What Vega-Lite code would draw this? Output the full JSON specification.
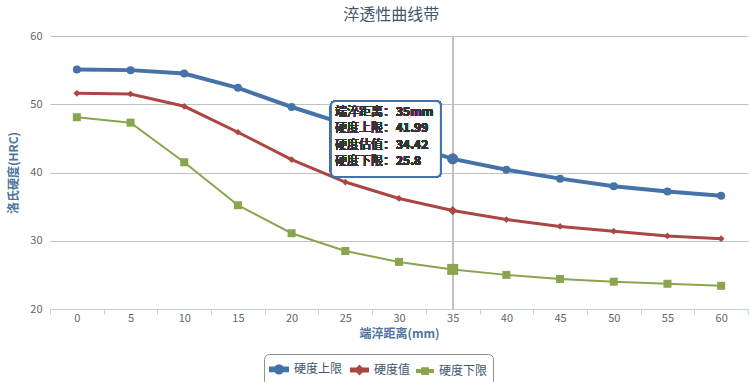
{
  "$schema": "https://vega.github.io/schema/vega-lite/v6.json",
  "width": 698,
  "height": 273,
  "autosize": {"type": "none"},
  "padding": {"left": 50, "top": 36, "right": 1, "bottom": 73},
  "background": "white",
  "title": {"text": "淬透性曲线带", "font": "Noto Sans CJK SC", "fontSize": 16, "fontWeight": "normal", "color": "#3E576F", "anchor": "middle", "frame": "bounds", "offset": 7},
  "config": {
    "view": {"stroke": null},
    "font": "Noto Sans CJK SC",
    "legend": {
      "padding": 5, "strokeColor": "#909090", "cornerRadius": 5, "fillColor": "white",
      "symbolSize": 256, "symbolStrokeWidth": 0, "symbolOpacity": 1,
      "labelFont": "Noto Sans CJK SC", "labelFontSize": 12, "labelColor": "#3E576F",
      "labelOffset": 5, "columnPadding": 2
    }
  },
  "data": {"values": [
    {"d": 0, "series": "硬度上限", "v": 55.1},
    {"d": 5, "series": "硬度上限", "v": 55.0},
    {"d": 10, "series": "硬度上限", "v": 54.5},
    {"d": 15, "series": "硬度上限", "v": 52.4},
    {"d": 20, "series": "硬度上限", "v": 49.6},
    {"d": 25, "series": "硬度上限", "v": 47.1},
    {"d": 30, "series": "硬度上限", "v": 44.5},
    {"d": 35, "series": "硬度上限", "v": 41.99},
    {"d": 40, "series": "硬度上限", "v": 40.4},
    {"d": 45, "series": "硬度上限", "v": 39.1},
    {"d": 50, "series": "硬度上限", "v": 38.0},
    {"d": 55, "series": "硬度上限", "v": 37.2},
    {"d": 60, "series": "硬度上限", "v": 36.6},
    {"d": 0, "series": "硬度值", "v": 51.6},
    {"d": 5, "series": "硬度值", "v": 51.5},
    {"d": 10, "series": "硬度值", "v": 49.7},
    {"d": 15, "series": "硬度值", "v": 45.9},
    {"d": 20, "series": "硬度值", "v": 41.9},
    {"d": 25, "series": "硬度值", "v": 38.6},
    {"d": 30, "series": "硬度值", "v": 36.2},
    {"d": 35, "series": "硬度值", "v": 34.42},
    {"d": 40, "series": "硬度值", "v": 33.1},
    {"d": 45, "series": "硬度值", "v": 32.1},
    {"d": 50, "series": "硬度值", "v": 31.4},
    {"d": 55, "series": "硬度值", "v": 30.7},
    {"d": 60, "series": "硬度值", "v": 30.3},
    {"d": 0, "series": "硬度下限", "v": 48.1},
    {"d": 5, "series": "硬度下限", "v": 47.3},
    {"d": 10, "series": "硬度下限", "v": 41.5},
    {"d": 15, "series": "硬度下限", "v": 35.2},
    {"d": 20, "series": "硬度下限", "v": 31.1},
    {"d": 25, "series": "硬度下限", "v": 28.5},
    {"d": 30, "series": "硬度下限", "v": 26.9},
    {"d": 35, "series": "硬度下限", "v": 25.8},
    {"d": 40, "series": "硬度下限", "v": 25.0},
    {"d": 45, "series": "硬度下限", "v": 24.4},
    {"d": 50, "series": "硬度下限", "v": 24.0},
    {"d": 55, "series": "硬度下限", "v": 23.7},
    {"d": 60, "series": "硬度下限", "v": 23.4}
  ]},
  "encoding": {
    "x": {"field": "d", "type": "quantitative",
      "scale": {"domain": [-2.5, 62.5], "nice": false, "zero": false},
      "axis": {
        "values": [-2.5, 2.5, 7.5, 12.5, 17.5, 22.5, 27.5, 32.5, 37.5, 42.5, 47.5, 52.5, 57.5, 62.5],
        "labelExpr": "datum.value > 60 ? '' : format(datum.value + 2.5, 'd')",
        "labelOffset": 26.85,
        "labelFlush": false, "labelOverlap": false, "labelBound": false,
        "grid": false,
        "domainColor": "#C0D0E0", "domainWidth": 1,
        "ticks": true, "tickColor": "#C0D0E0", "tickSize": 5, "tickWidth": 1,
        "labelFont": "Noto Sans CJK SC", "labelFontSize": 11, "labelColor": "#666666", "labelPadding": -2,
        "title": "端淬距离(mm)", "titleFont": "Noto Sans CJK SC", "titleFontSize": 12, "titleFontWeight": "bold", "titleColor": "#4D759E", "titlePadding": 5
      }
    },
    "y": {"field": "v", "type": "quantitative",
      "scale": {"domain": [20, 60], "nice": false, "zero": false},
      "axis": {
        "values": [20, 30, 40, 50, 60],
        "grid": true, "gridColor": "#C0C0C0", "gridWidth": 1,
        "domain": false, "ticks": false,
        "labelFont": "Noto Sans CJK SC", "labelFontSize": 11, "labelColor": "#666666", "labelPadding": 8,
        "title": "洛氏硬度(HRC)", "titleFont": "Noto Sans CJK SC", "titleFontSize": 12, "titleFontWeight": "bold", "titleColor": "#4D759E", "titlePadding": 9
      }
    }
  },
  "layer": [
    {
      "mark": {"type": "rule", "color": "#C0C0C0", "strokeWidth": 1},
      "encoding": {"x": {"datum": 35}, "y": null}
    },
    {
      "encoding": {
        "color": {"field": "series", "type": "nominal",
          "scale": {"domain": ["硬度上限", "硬度值", "硬度下限"], "range": ["#4572A7", "#AA4643", "#89A54E"]},
          "legend": {"title": null, "orient": "none", "legendX": 214, "legendY": 318, "direction": "horizontal"}}
      },
      "layer": [
        {
          "mark": {"type": "line", "interpolate": "linear"},
          "encoding": {
            "strokeWidth": {"field": "series", "type": "nominal",
              "scale": {"domain": ["硬度上限", "硬度值", "硬度下限"], "range": [4, 2, 2]}, "legend": null}
          }
        },
        {
          "transform": [{"filter": "datum.d < -100"}],
          "mark": {"type": "point", "filled": true, "opacity": 1, "strokeWidth": 0},
          "encoding": {
            "shape": {"field": "series", "type": "nominal",
              "scale": {"domain": ["硬度上限", "硬度值", "硬度下限"], "range": [
                "M-1,-0.12H1V0.12H-1Z M-0.4,0A0.4,0.4,0,1,1,0.4,0A0.4,0.4,0,1,1,-0.4,0Z",
                "M-1,-0.12H1V0.12H-1Z M0,-0.42L0.42,0L0,0.42L-0.42,0Z",
                "M-1,-0.12H1V0.12H-1Z M-0.36,-0.36H0.36V0.36H-0.36Z"]},
              "legend": {"title": null, "orient": "none", "legendX": 214, "legendY": 318, "direction": "horizontal"}}
          }
        },
        {
          "transform": [{"filter": "datum.series == '硬度上限'"}],
          "mark": {"type": "point", "shape": "circle", "filled": true, "opacity": 1, "strokeWidth": 0},
          "encoding": {"size": {"condition": {"test": "datum.d == 35", "value": 125}, "value": 64}}
        },
        {
          "transform": [{"filter": "datum.series == '硬度值'"}],
          "mark": {"type": "point", "shape": "diamond", "filled": true, "opacity": 1, "strokeWidth": 0},
          "encoding": {"size": {"condition": {"test": "datum.d == 35", "value": 85}, "value": 45}}
        },
        {
          "transform": [{"filter": "datum.series == '硬度下限'"}],
          "mark": {"type": "point", "shape": "square", "filled": true, "opacity": 1, "strokeWidth": 0},
          "encoding": {"size": {"condition": {"test": "datum.d == 35", "value": 121}, "value": 64}}
        }
      ]
    },
    {
      "mark": {"type": "rect", "fill": "white", "fillOpacity": 0.92, "stroke": "#4572A7", "strokeWidth": 2, "cornerRadius": 5},
      "encoding": {"x": {"datum": 23.66}, "x2": {"datum": 33.9}, "y": {"datum": 50.48}, "y2": {"datum": 39.34}}
    },
    {
      "mark": {"type": "text", "align": "left", "baseline": "top", "font": "Noto Sans CJK SC", "fontSize": 12, "color": "#333333", "lineHeight": 16.5,
        "text": ["端淬距离：", "硬度上限：", "硬度估值：", "硬度下限："]},
      "encoding": {"x": {"datum": 24.04}, "y": {"datum": 49.6}}
    },
    {
      "mark": {"type": "text", "align": "left", "baseline": "top", "font": "Noto Sans CJK SC", "fontSize": 12, "fontWeight": "bold", "color": "#333333", "lineHeight": 16.5,
        "text": ["35mm", "41.99", "34.42", "25.8"]},
      "encoding": {"x": {"datum": 29.72}, "y": {"datum": 49.6}}
    }
  ]
}
